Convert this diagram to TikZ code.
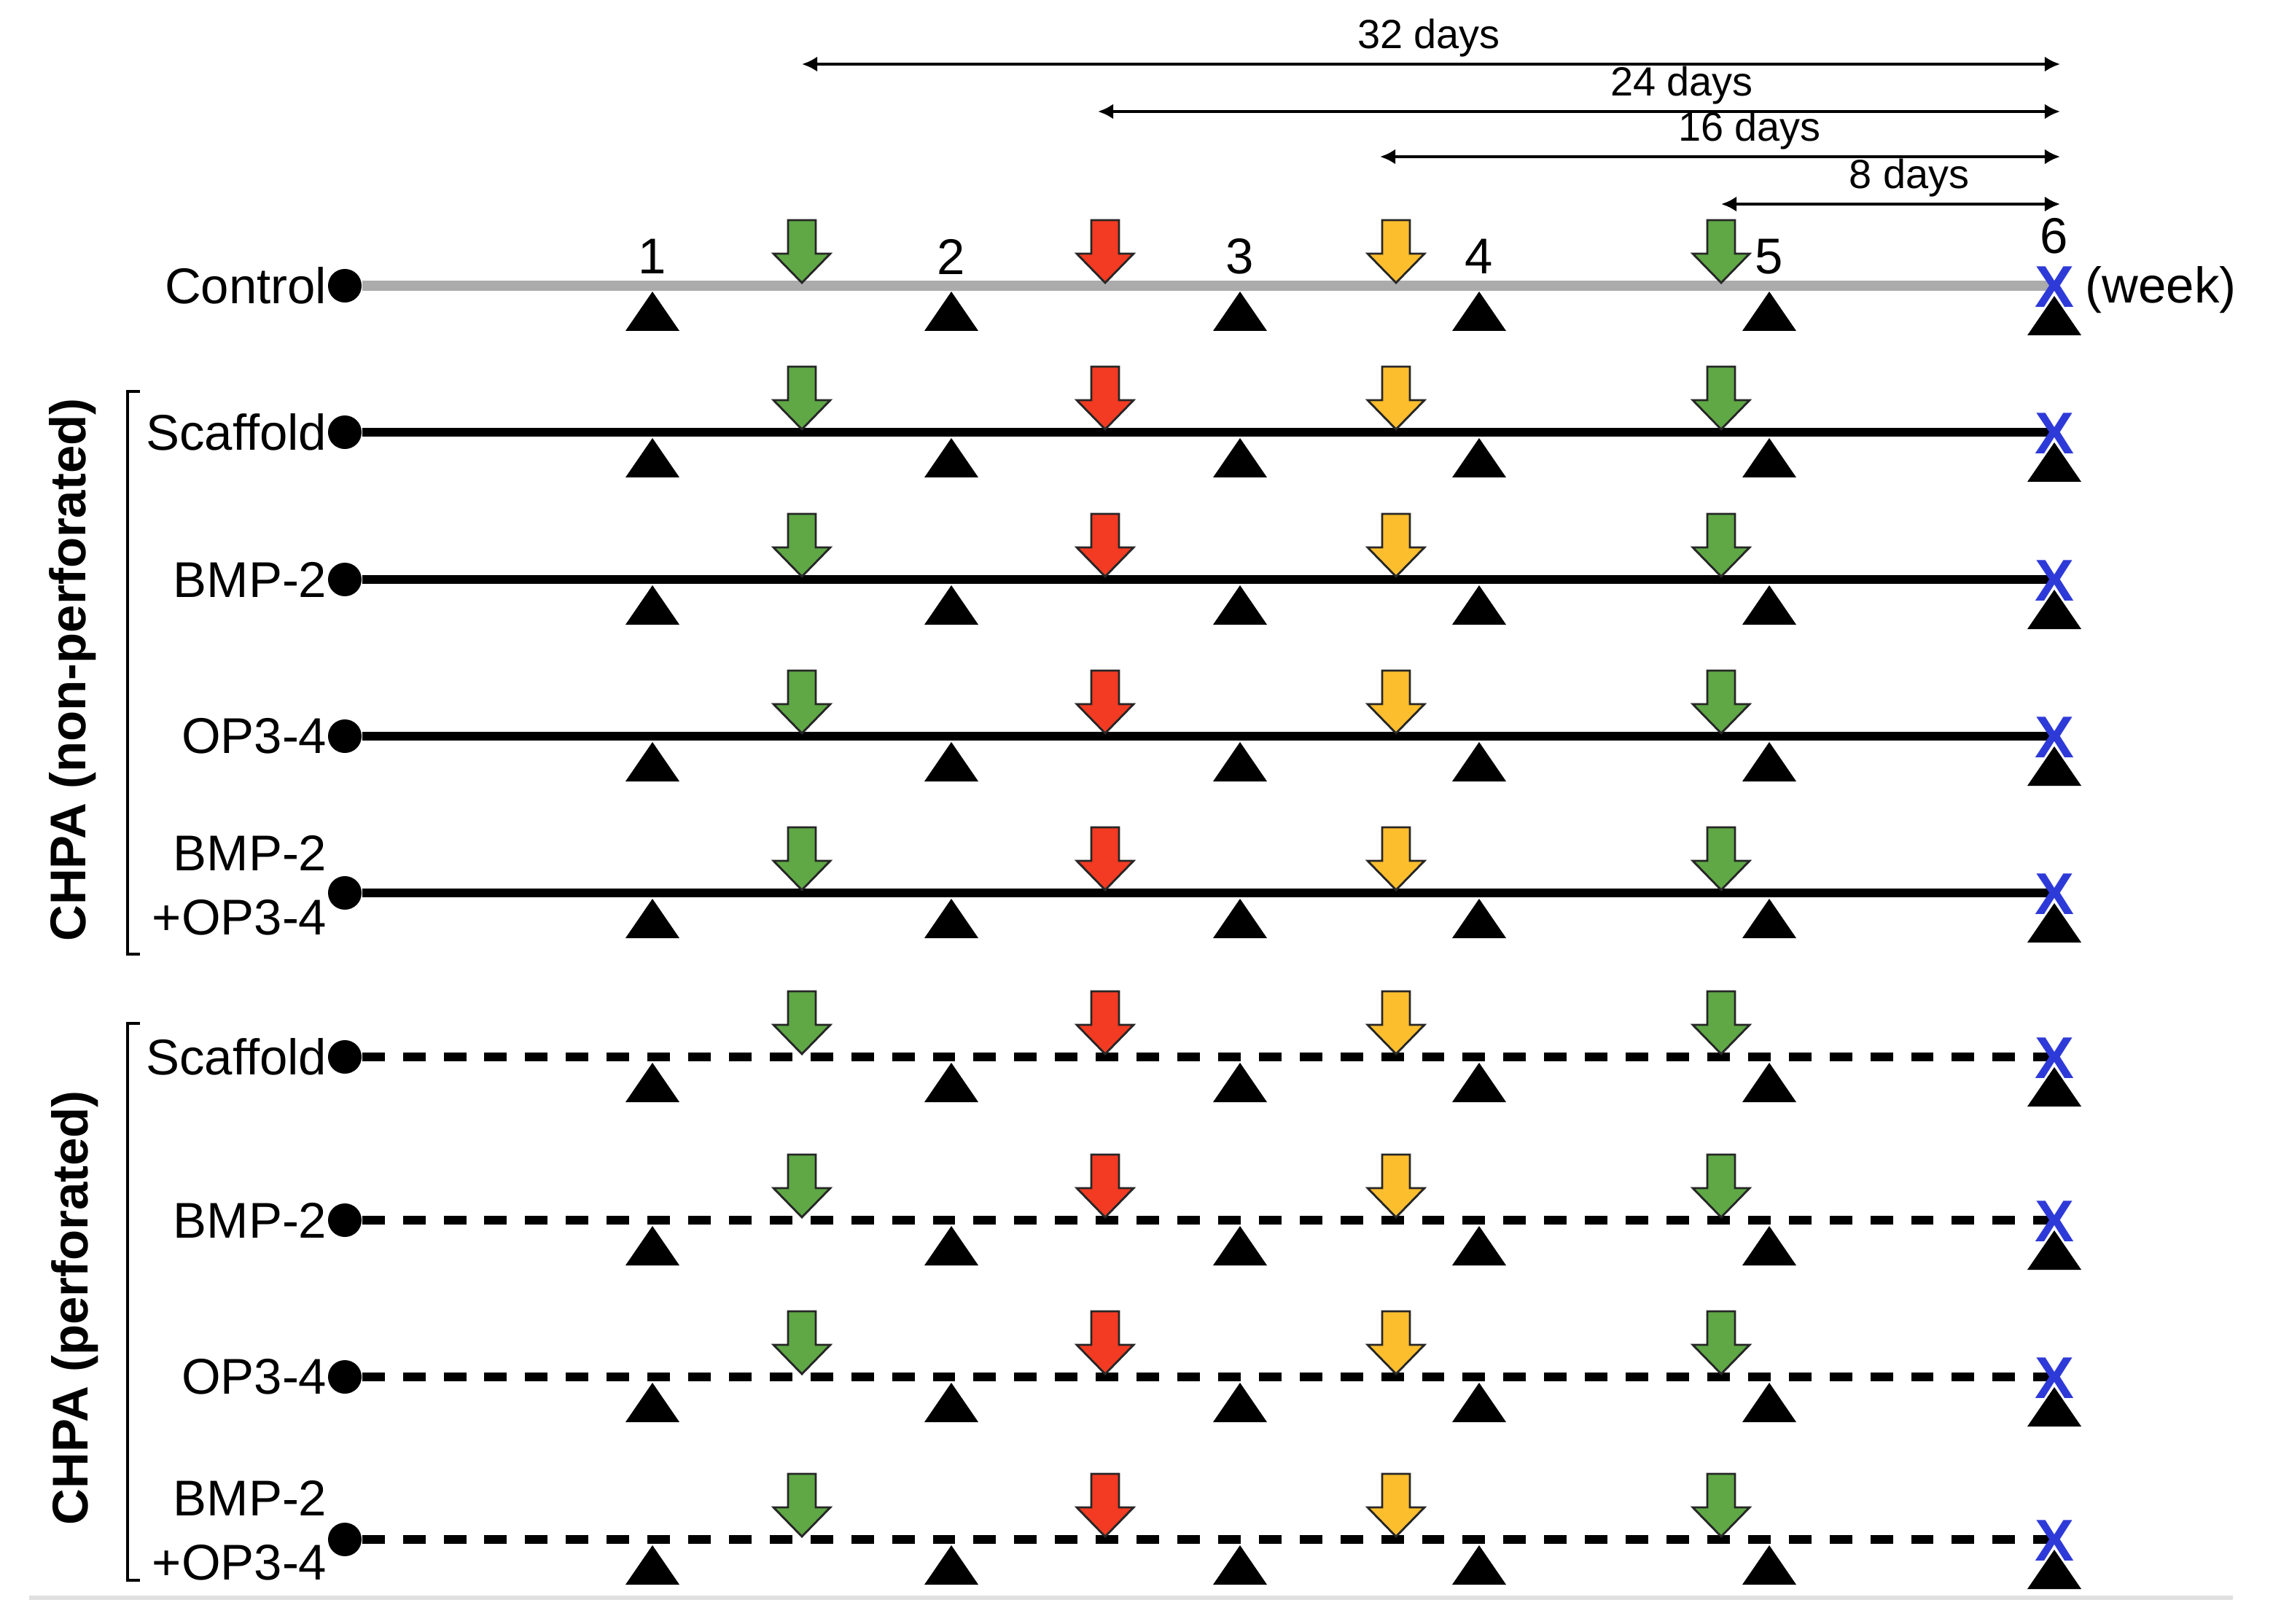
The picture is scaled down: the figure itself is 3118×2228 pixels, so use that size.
\documentclass[tikz,border=0pt]{standalone}
\usepackage{fontspec}
\setmainfont{Liberation Sans}
\usepackage{tikz}
\usetikzlibrary{arrows.meta,positioning}

\definecolor{injgreen}{HTML}{5FA845}
\definecolor{injred}{HTML}{F23B22}
\definecolor{injyellow}{HTML}{FDBE2E}
\definecolor{endblue}{HTML}{2E3AD8}

\tikzset{
    rowlabel/.style={font=\fontsize{19.6}{25}\selectfont, anchor=east, align=right, inner sep=0pt},
    grouptitle/.style={font=\fontsize{19.6}{25}\selectfont\bfseries, rotate=90, inner sep=0pt},
    weeknum/.style={font=\fontsize{19.6}{25}\selectfont, inner sep=0pt},
    daylabel/.style={font=\fontsize{15.9}{19}\selectfont, inner sep=0pt},
    startdot/.style={circle, fill=black, minimum size=0.46cm, inner sep=0pt},
    ctlline/.style={draw=black!33, line width=4pt},
    solidline/.style={draw=black, line width=3.4pt},
    dashline/.style={draw=black, line width=3.4pt, dash pattern=on 8.8pt off 7.1pt},
    span/.style={<->, >={Latex[length=6pt,width=6pt]}, line width=1.2pt},
    injarrow/.style={draw=black!85, line width=0.8pt, line join=miter},
    bracket/.style={line width=1.4pt},
    endmark/.style={font=\fontsize{23}{27}\selectfont\bfseries, text=endblue, inner sep=0pt}
}

\begin{document}
\begin{tikzpicture}[x=0.01cm, y=-0.01cm]
    \useasboundingbox (0,0) rectangle (3118,2228);

    % day spans measured back from week 6
    \foreach \dl/\dy/\dn/\lx in {1100/88/32/1960, 1506/153/24/2307, 1893/215/16/2400, 2361/280/8/2619} {
        \coordinate (d\dn a) at (\dl,\dy);
        \coordinate (d\dn b) at (2826,\dy);
        \draw[span] (d\dn a) -- (d\dn b);
        \node[daylabel] (l\dn) at (\lx,\dy-36) {\dn~days};
    }

    % week numbers
    \foreach \wx/\wn in {895/1,1305/2,1701/3,2029/4,2427/5} {
        \node[weeknum] (w\wn) at (\wx,352) {\wn};
    }
    \node[weeknum] (w6) at (2818,324) {6};
    \node[rowlabel, anchor=west] (weekunit) at (2860,398) {(week)};

    % one timeline per group
    \foreach \y/\name/\txt/\kind/\ty in {392/ctl/Control/ctlline/0, 593/s1/Scaffold/solidline/0,
        795/b1/BMP-2/solidline/0, 1010/o1/OP3-4/solidline/0, 1225/c1/{BMP-2\\+OP3-4}/solidline/-10,
        1450/s2/Scaffold/dashline/0, 1674/b2/BMP-2/dashline/0, 1889/o2/OP3-4/dashline/0,
        2112/c2/{BMP-2\\+OP3-4}/dashline/-12} {
        \node[startdot] (\name) at (473,\y) {};
        \node[rowlabel] (\name-txt) at (449,\y+\ty) {\txt};
        \coordinate (\name-end) at (2812,\y);
        \draw[\kind] (\name) -- (\name-end);
        % sampling points
        \foreach \tx in {895,1305,1701,2029,2427} {
            \fill (\tx,\y+8) -- ++(37,54) -- ++(-74,0) -- cycle;
        }
        \fill (2818,\y+14) -- ++(37,54) -- ++(-74,0) -- cycle;
        % injections
        \foreach \ax/\col in {1100/injgreen,1516/injred,1915/injyellow,2361/injgreen} {
            \draw[injarrow, fill=\col] (\ax,\y-4) -- ++(39,-40) -- ++(-20,0) -- ++(0,-46)
                -- ++(-38,0) -- ++(0,46) -- ++(-20,0) -- cycle;
        }
        \node[endmark] (\name-x) at (2818,\y+2) {X};
    }

    % group brackets
    \draw[bracket] (192,537) -- (175,537) -- (175,1309) -- (192,1309);
    \draw[bracket] (192,1404) -- (175,1404) -- (175,2168) -- (192,2168);
    \node[grouptitle] (nonperf) at (100,919) {CHPA (non-perforated)};
    \node[grouptitle] (perf) at (103,1794) {CHPA (perforated)};

    \draw[black!12, line width=1.7pt] (40,2192) -- (3063,2192);
\end{tikzpicture}
\end{document}
